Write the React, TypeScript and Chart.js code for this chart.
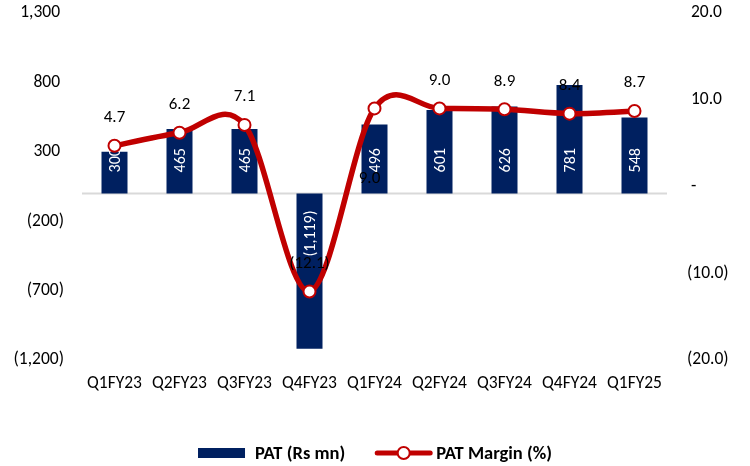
import React, { useEffect, useRef } from "react";
import { Chart, registerables } from "chart.js";

Chart.register(...registerables);

// Quarterly PAT (Rs mn) and PAT margin (%)
const quarters = ["Q1FY23", "Q2FY23", "Q3FY23", "Q4FY23", "Q1FY24", "Q2FY24", "Q3FY24", "Q4FY24", "Q1FY25"];
const patRsMn = [300, 465, 465, -1119, 496, 601, 626, 781, 548];
const patMarginPct = [4.7, 6.2, 7.1, -12.1, 9.0, 9.0, 8.9, 8.4, 8.7];

// Axis ranges: [min, max, step]
const patAxisRange = [-1200, 1300, 500];
const marginAxisRange = [-20, 20, 10];

const legendLabels = ["PAT (Rs mn)", "PAT Margin (%)"];

const FONT = "Calibri, Carlito, Lato, sans-serif";
const NAVY = "#002060";
const RED = "#C00000";
const TICK_SIZE = 17.5;

const fmtThousands = (v: number) =>
  Math.abs(v).toLocaleString("en-US", { maximumFractionDigits: 0 });

const fmtPatTick = (v: number) => (v < 0 ? `(${fmtThousands(v)})` : `${fmtThousands(v)} `);
const fmtPatLabel = (v: number) => (v < 0 ? `(${fmtThousands(v)})` : fmtThousands(v));
const fmtMarginTick = (v: number) =>
  v === 0 ? " -" : v < 0 ? `(${Math.abs(v).toFixed(1)})` : ` ${v.toFixed(1)}`;
const fmtMarginLabel = (v: number) => (v < 0 ? `(${Math.abs(v).toFixed(1)})` : v.toFixed(1));

// Horizontal line through zero of the PAT axis
const zeroLinePlugin = {
  id: "zeroLine",
  beforeDatasetsDraw(chart: any) {
    const { ctx, chartArea, scales } = chart;
    const y = scales.yPat.getPixelForValue(0);
    ctx.save();
    ctx.strokeStyle = "#d9d9d9";
    ctx.lineWidth = 2;
    ctx.beginPath();
    ctx.moveTo(chartArea.left, y);
    ctx.lineTo(chartArea.right, y);
    ctx.stroke();
    ctx.restore();
  },
};

// Smoothed margin line: uniform Catmull-Rom style control points
const SMOOTH_K = 1 / 6;
const smoothLinePlugin = {
  id: "smoothLine",
  beforeDatasetDraw(chart: any, args: any) {
    const meta = args.meta;
    if (meta.type !== "line") return;
    const line = meta.dataset;
    line.updateControlPoints(chart.chartArea, meta.iScale.axis);
    const pts = meta.data;
    const n = pts.length;
    for (let i = 0; i < n; i++) {
      const p = pts[i];
      const prev = pts[Math.max(i - 1, 0)];
      const next = pts[Math.min(i + 1, n - 1)];
      const dx = next.x - prev.x;
      const dy = next.y - prev.y;
      p.cp1x = p.x - SMOOTH_K * dx;
      p.cp1y = p.y - SMOOTH_K * dy;
      p.cp2x = p.x + SMOOTH_K * dx;
      p.cp2y = p.y + SMOOTH_K * dy;
    }
    line._path = undefined;
  },
};

// Rotated value labels at the base of each bar (drawn beneath the margin line)
const barLabelPlugin = {
  id: "barLabels",
  afterDatasetDraw(chart: any, args: any) {
    if (args.meta.type !== "bar") return;
    const { ctx, scales } = chart;
    const zeroY = scales.yPat.getPixelForValue(0);
    ctx.save();
    ctx.fillStyle = "#ffffff";
    ctx.font = `16px ${FONT}`;
    ctx.textBaseline = "middle";
    args.meta.data.forEach((bar: any, i: number) => {
      const v = patRsMn[i];
      const text = fmtPatLabel(v);
      ctx.save();
      if (v >= 0) {
        ctx.translate(bar.x, zeroY - 21);
        ctx.rotate(-Math.PI / 2);
        ctx.textAlign = "left";
      } else {
        ctx.translate(bar.x, zeroY + 17);
        ctx.rotate(-Math.PI / 2);
        ctx.textAlign = "right";
      }
      ctx.fillText(text, 0, 1);
      ctx.restore();
    });
    ctx.restore();
  },
};

// Margin value labels above each point (Q1FY24 sits below its point)
const lineLabelPlugin = {
  id: "lineLabels",
  afterDatasetsDraw(chart: any) {
    const meta = chart.getDatasetMeta(0);
    const { ctx } = chart;
    ctx.save();
    ctx.fillStyle = "#000000";
    ctx.font = `17px ${FONT}`;
    ctx.textAlign = "center";
    ctx.textBaseline = "middle";
    meta.data.forEach((pt: any, i: number) => {
      const below = quarters[i] === "Q1FY24";
      const x = below ? pt.x - 5 : pt.x;
      const y = below ? pt.y + 70 : pt.y - 28;
      ctx.fillText(fmtMarginLabel(patMarginPct[i]), x, y);
    });
    ctx.restore();
  },
};

// Legend centred under the chart
const legendPlugin = {
  id: "bottomLegend",
  afterDraw(chart: any) {
    const { ctx, width } = chart;
    const y = 453;
    ctx.save();
    ctx.font = `bold 18.5px ${FONT}`;
    ctx.textBaseline = "middle";
    ctx.textAlign = "left";
    const w1 = ctx.measureText(legendLabels[0]).width;
    const w2 = ctx.measureText(legendLabels[1]).width;
    const sw1 = 47, g1 = 10, sp = 30, sw2 = 57, g2 = 4;
    const total = sw1 + g1 + w1 + sp + sw2 + g2 + w2;
    let x = width / 2 - total / 2;
    ctx.fillStyle = NAVY;
    ctx.fillRect(x, y - 5, sw1, 10);
    x += sw1 + g1;
    ctx.fillStyle = "#000000";
    ctx.fillText(legendLabels[0], x, y + 1);
    x += w1 + sp;
    ctx.strokeStyle = RED;
    ctx.lineWidth = 5;
    ctx.lineCap = "round";
    ctx.beginPath();
    ctx.moveTo(x + 2, y);
    ctx.lineTo(x + sw2 - 2, y);
    ctx.stroke();
    ctx.beginPath();
    ctx.arc(x + sw2 / 2, y, 6, 0, Math.PI * 2);
    ctx.fillStyle = "#ffffff";
    ctx.fill();
    ctx.lineWidth = 2;
    ctx.stroke();
    x += sw2 + g2;
    ctx.fillStyle = "#000000";
    ctx.fillText(legendLabels[1], x, y + 1);
    ctx.restore();
  },
};

export default function App() {
  const canvasRef = useRef<HTMLCanvasElement | null>(null);

  useEffect(() => {
    if (!canvasRef.current) return;
    const chart = new Chart(canvasRef.current, {
      type: "bar",
      data: {
        labels: quarters,
        datasets: [
          {
            type: "line",
            label: legendLabels[1],
            data: patMarginPct,
            yAxisID: "yPct",
            order: 0,
            borderColor: RED,
            borderWidth: 5.5,
            tension: 0.5,
            pointRadius: 6,
            pointHoverRadius: 6,
            pointBackgroundColor: "#ffffff",
            pointBorderColor: RED,
            pointBorderWidth: 2,
            fill: false,
          } as any,
          {
            type: "bar",
            label: legendLabels[0],
            data: patRsMn,
            yAxisID: "yPat",
            order: 1,
            backgroundColor: NAVY,
            borderWidth: 0,
            barPercentage: 0.8,
            categoryPercentage: 0.5,
          },
        ],
      },
      options: {
        responsive: false,
        animation: false,
        layout: { padding: { top: 13, bottom: 66, left: 0, right: 0 } },
        plugins: {
          legend: { display: false },
          tooltip: { enabled: false },
        },
        scales: {
          x: {
            grid: { display: false, drawTicks: false },
            border: { display: false },
            ticks: { color: "#000000", font: { family: FONT, size: TICK_SIZE }, padding: 13, maxRotation: 0 },
            afterFit: (s: any) => {
              s.height = 40;
              s.paddingLeft = 0;
              s.paddingRight = 0;
            },
          },
          yPat: {
            position: "left",
            min: patAxisRange[0],
            max: patAxisRange[1],
            grid: { display: false, drawTicks: false },
            border: { display: false },
            ticks: {
              stepSize: patAxisRange[2],
              color: "#000000",
              font: { family: FONT, size: TICK_SIZE },
              padding: 18,
              callback: (v: any) => fmtPatTick(Number(v)),
            },
            afterFit: (s: any) => {
              s.width = 82;
              s.paddingTop = 0;
              s.paddingBottom = 0;
            },
          },
          yPct: {
            position: "right",
            min: marginAxisRange[0],
            max: marginAxisRange[1],
            grid: { display: false, drawTicks: false },
            border: { display: false },
            ticks: {
              stepSize: marginAxisRange[2],
              color: "#000000",
              font: { family: FONT, size: TICK_SIZE },
              padding: 20,
              callback: (v: any) => fmtMarginTick(Number(v)),
            },
            afterFit: (s: any) => {
              s.width = 83;
              s.paddingTop = 0;
              s.paddingBottom = 0;
            },
          },
        },
      },
      plugins: [zeroLinePlugin, smoothLinePlugin, barLabelPlugin, lineLabelPlugin, legendPlugin],
    });
    return () => chart.destroy();
  }, []);

  return (
    <div style={{ position: "fixed", left: 0, top: 0, width: 750, height: 466, background: "#ffffff" }}>
      <canvas ref={canvasRef} width={750} height={466} />
    </div>
  );
}
